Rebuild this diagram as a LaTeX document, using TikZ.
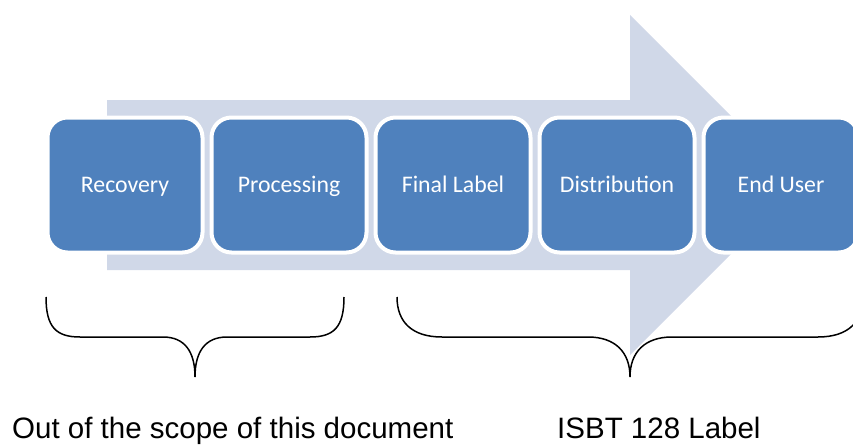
\documentclass[tikz,border=0pt]{standalone}
\usepackage{fontspec}
\setmainfont{Liberation Sans}
\newfontfamily\boxfont{Carlito}
\usepackage{xcolor}
\definecolor{stageblue}{RGB}{79, 129, 189}
\definecolor{flowgrey}{RGB}{208, 216, 232}

\begin{document}
\begin{tikzpicture}[
        x=1pt, y=-1pt,
        stage/.style={rectangle, draw=white, line width=4pt, fill=stageblue, rounded corners=20pt, minimum width=155pt, minimum height=135pt, text height=19pt, text depth=5pt, align=center, text=white, font=\boxfont\fontsize{23.8}{26}\selectfont},
        flow/.style={fill=flowgrey},
        bracket/.style={black, line width=1.5pt},
        caption/.style={anchor=base west, inner sep=0pt, font=\fontsize{29.5}{32}\selectfont}
    ]
        \clip (0,0) rectangle (853,444);

        % Background arrow
        \fill[flow] (107,100) -- (630,100) -- (630,15) -- (800,185) -- (630,355) -- (630,270) -- (107,270) -- cycle;

        % Stages
        \node[stage] (recovery) at (125,185) {Recovery};
        \node[stage] (processing) at (289,185) {Processing};
        \node[stage] (final) at (453,185) {Final Label};
        \node[stage] (distrib) at (617,185) {Distribution};
        \node[stage] (enduser) at (781,185) {End User};

        % Brace ends
        \coordinate (outL) at (46,297);
        \coordinate (outT) at (195,377);
        \coordinate (outR) at (344,297);
        \coordinate (isbtL) at (397,297);
        \coordinate (isbtT) at (630,377);
        \coordinate (isbtR) at (863,297);

        % Braces
        \draw[bracket] (outL) .. controls (46,327) and (56,337) .. (80,337) -- (163,337)
            .. controls (185,337) and (195,352) .. (outT)
            .. controls (195,352) and (205,337) .. (227,337) -- (310,337)
            .. controls (334,337) and (344,327) .. (outR);
        \draw[bracket] (isbtL) .. controls (397,322) and (412,337) .. (442,337) -- (588,337)
            .. controls (615,337) and (630,352) .. (isbtT)
            .. controls (630,352) and (645,337) .. (672,337) -- (818,337)
            .. controls (848,337) and (863,322) .. (isbtR);

        % Captions
        \node[caption] (outscope) at (12,438) {Out of the scope of this document};
        \node[caption] (isbt) at (557,438) {ISBT 128 Label};
    \end{tikzpicture}
\end{document}
